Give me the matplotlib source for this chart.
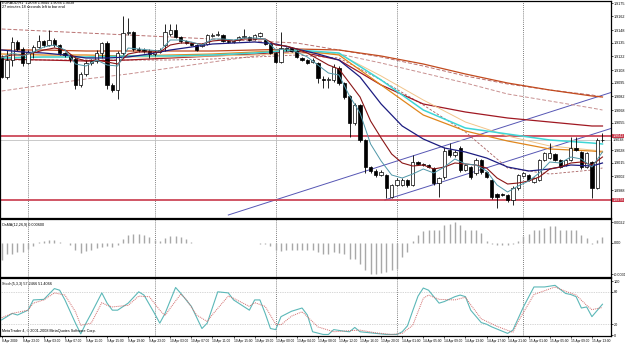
import matplotlib
matplotlib.use("Agg")
import matplotlib.pyplot as plt
import numpy as np

W, H = 625, 343
plt.rcParams["font.family"] = ["Liberation Sans", "DejaVu Sans"]

# ---- EURAUD H1 candles (one per bar, left to right)
open_ = [1.9120, 1.9101, 1.9118, 1.9136, 1.9129, 1.9115, 1.9126, 1.9131, 1.9137, 1.9133,
         1.9138, 1.9133, 1.9125, 1.9123, 1.9119, 1.9093, 1.9104, 1.9115, 1.9117, 1.9125,
         1.9135, 1.9093, 1.9088, 1.9125, 1.9145, 1.9146, 1.9129, 1.9128, 1.9127, 1.9124,
         1.9126, 1.9133, 1.9144, 1.9148, 1.9141, 1.9137, 1.9135, 1.9133, 1.9132, 1.9134,
         1.9142, 1.9143, 1.9143, 1.9137, 1.9136, 1.9138, 1.9141, 1.9141, 1.9139, 1.9142,
         1.9138, 1.9134, 1.9125, 1.9116, 1.9130, 1.9130, 1.9127, 1.9120, 1.9118, 1.9116,
         1.9115, 1.9099, 1.9098, 1.9098, 1.9110, 1.9095, 1.9082, 1.9055, 1.9073, 1.9038,
         1.9011, 1.9007, 1.9003, 1.9003, 1.8981, 1.8993, 1.8993, 1.8998, 1.8993, 1.9016,
         1.9014, 1.9013, 1.9010, 1.8995, 1.9001, 1.9028, 1.9023, 1.9030, 1.9008, 1.9011,
         1.9005, 1.9018, 1.9006, 1.8998, 1.8984, 1.8984, 1.8983, 1.8978, 1.8990, 1.9002,
         1.9003, 1.8996, 1.8998, 1.9018, 1.9020, 1.9024, 1.9018, 1.9013, 1.9018, 1.9030,
         1.9026, 1.9011, 1.9016, 1.8990, 1.9038]
high = [1.9123, 1.9128, 1.9141, 1.9138, 1.9131, 1.9128, 1.9133, 1.9143, 1.9138, 1.9148,
        1.9140, 1.9134, 1.9126, 1.9124, 1.9121, 1.9106, 1.9118, 1.9119, 1.9128, 1.9136,
        1.9137, 1.9095, 1.9127, 1.9162, 1.9160, 1.9147, 1.9131, 1.9130, 1.9129, 1.9128,
        1.9130, 1.9154, 1.9154, 1.9154, 1.9142, 1.9138, 1.9136, 1.9134, 1.9135, 1.9144,
        1.9145, 1.9147, 1.9144, 1.9138, 1.9138, 1.9142, 1.9149, 1.9142, 1.9144, 1.9146,
        1.9139, 1.9135, 1.9126, 1.9146, 1.9131, 1.9131, 1.9128, 1.9121, 1.9119, 1.9120,
        1.9116, 1.9102, 1.9101, 1.9114, 1.9112, 1.9096, 1.9083, 1.9075, 1.9074, 1.9039,
        1.9012, 1.9009, 1.9008, 1.9004, 1.8994, 1.9000, 1.9000, 1.8999, 1.9023, 1.9017,
        1.9015, 1.9014, 1.9011, 1.9001, 1.9031, 1.9035, 1.9028, 1.9032, 1.9014, 1.9012,
        1.9020, 1.9019, 1.9007, 1.8999, 1.8985, 1.8985, 1.8984, 1.8992, 1.9004, 1.9006,
        1.9004, 1.9001, 1.9019, 1.9026, 1.9035, 1.9025, 1.9019, 1.9019, 1.9041, 1.9041,
        1.9027, 1.9026, 1.9017, 1.9040, 1.9045]
low = [1.9100, 1.9099, 1.9112, 1.9127, 1.9112, 1.9114, 1.9120, 1.9130, 1.9131, 1.9132,
       1.9131, 1.9123, 1.9121, 1.9116, 1.9089, 1.9091, 1.9102, 1.9113, 1.9115, 1.9120,
       1.9089, 1.9086, 1.9079, 1.9123, 1.9143, 1.9127, 1.9126, 1.9125, 1.9120, 1.9122,
       1.9125, 1.9127, 1.9142, 1.9140, 1.9135, 1.9134, 1.9132, 1.9127, 1.9131, 1.9133,
       1.9141, 1.9142, 1.9136, 1.9135, 1.9135, 1.9137, 1.9140, 1.9137, 1.9138, 1.9141,
       1.9133, 1.9124, 1.9115, 1.9115, 1.9127, 1.9126, 1.9120, 1.9117, 1.9114, 1.9115,
       1.9095, 1.9090, 1.9090, 1.9096, 1.9093, 1.9079, 1.9041, 1.9053, 1.9036, 1.9005,
       1.9005, 1.9001, 1.9002, 1.8980, 1.8980, 1.8992, 1.8992, 1.8991, 1.8992, 1.9013,
       1.9012, 1.9010, 1.8993, 1.8981, 1.8999, 1.9021, 1.9021, 1.9006, 1.9007, 1.8999,
       1.9003, 1.9004, 1.9000, 1.8979, 1.8970, 1.8982, 1.8976, 1.8973, 1.8988, 1.9001,
       1.8997, 1.8995, 1.8997, 1.9017, 1.9019, 1.9017, 1.9010, 1.9012, 1.9017, 1.9027,
       1.9009, 1.9010, 1.8980, 1.8989, 1.9036]
close = [1.9101, 1.9118, 1.9136, 1.9129, 1.9115, 1.9126, 1.9131, 1.9137, 1.9133, 1.9138,
         1.9133, 1.9125, 1.9123, 1.9119, 1.9093, 1.9104, 1.9115, 1.9117, 1.9125, 1.9135,
         1.9093, 1.9088, 1.9125, 1.9145, 1.9146, 1.9129, 1.9128, 1.9127, 1.9124, 1.9126,
         1.9128, 1.9146, 1.9148, 1.9141, 1.9137, 1.9135, 1.9133, 1.9128, 1.9134, 1.9143,
         1.9143, 1.9144, 1.9137, 1.9136, 1.9137, 1.9141, 1.9142, 1.9138, 1.9143, 1.9145,
         1.9134, 1.9125, 1.9116, 1.9130, 1.9129, 1.9127, 1.9121, 1.9118, 1.9115, 1.9118,
         1.9100, 1.9098, 1.9099, 1.9111, 1.9095, 1.9081, 1.9055, 1.9073, 1.9038, 1.9011,
         1.9007, 1.9003, 1.9006, 1.8990, 1.8993, 1.8998, 1.8998, 1.8993, 1.9016, 1.9014,
         1.9013, 1.9011, 1.8995, 1.9000, 1.9027, 1.9023, 1.9026, 1.9008, 1.9013, 1.9001,
         1.9018, 1.9006, 1.9001, 1.8981, 1.8981, 1.8983, 1.8978, 1.8990, 1.9003, 1.9005,
         1.8998, 1.9000, 1.9018, 1.9025, 1.9025, 1.9018, 1.9011, 1.9018, 1.9030, 1.9028,
         1.9011, 1.9025, 1.8990, 1.9038, 1.9038]

bars_fast = list(range(0, 115, 2))
ma_teal = [1.9120, 1.9125, 1.9122, 1.9126, 1.9131, 1.9133, 1.9128, 1.9114, 1.9112, 1.9118,
           1.9113, 1.9112, 1.9130, 1.9129, 1.9128, 1.9127, 1.9138, 1.9138, 1.9136, 1.9133,
           1.9139, 1.9139, 1.9138, 1.9140, 1.9140, 1.9139, 1.9128, 1.9129, 1.9126, 1.9121,
           1.9113, 1.9105, 1.9103, 1.9082, 1.9065, 1.9034, 1.9017, 1.9003, 1.9000, 1.9004,
           1.9009, 1.9005, 1.9011, 1.9019, 1.9014, 1.9013, 1.9007, 1.8993, 1.8986, 1.8992,
           1.8997, 1.9005, 1.9016, 1.9015, 1.9021, 1.9019, 1.9011, 1.9026]
ma_maroon = [1.9121, 1.9123, 1.9123, 1.9125, 1.9128, 1.9130, 1.9128, 1.9120, 1.9117, 1.9118,
             1.9116, 1.9114, 1.9124, 1.9126, 1.9126, 1.9126, 1.9133, 1.9135, 1.9135, 1.9134,
             1.9137, 1.9138, 1.9137, 1.9139, 1.9139, 1.9139, 1.9133, 1.9132, 1.9129, 1.9125,
             1.9119, 1.9113, 1.9109, 1.9095, 1.9081, 1.9057, 1.9040, 1.9024, 1.9015, 1.9012,
             1.9013, 1.9009, 1.9011, 1.9015, 1.9014, 1.9013, 1.9010, 1.9000, 1.8994, 1.8995,
             1.8997, 1.9001, 1.9009, 1.9011, 1.9015, 1.9016, 1.9013, 1.9021]
bars_mid = list(range(0, 113, 4)) + [114]
ma_navy = [1.9128, 1.9126, 1.9125, 1.9123, 1.9120, 1.9120, 1.9121, 1.9124, 1.9128, 1.9131,
           1.9134, 1.9135, 1.9136, 1.9134, 1.9129, 1.9124, 1.9118, 1.9101, 1.9074, 1.9052,
           1.9039, 1.9030, 1.9026, 1.9020, 1.9011, 1.9007, 1.9009, 1.9013, 1.9012, 1.9015]
bars_slow = list(range(0, 113, 8)) + [114]
ma_cyan = [1.9120, 1.9121, 1.9121, 1.9122, 1.9122, 1.9123, 1.9125, 1.9128, 1.9125, 1.9098,
           1.9068, 1.9050, 1.9044, 1.9038, 1.9035, 1.9034]
ma_orange = [1.9124, 1.9123, 1.9123, 1.9122, 1.9123, 1.9124, 1.9126, 1.9128, 1.9123, 1.9093,
             1.9063, 1.9047, 1.9037, 1.9029, 1.9027, 1.9026]
ma_peach = [1.9121, 1.9121, 1.9121, 1.9121, 1.9121, 1.9122, 1.9123, 1.9125, 1.9124, 1.9102,
            1.9078, 1.9056, 1.9042, 1.9032, 1.9028, 1.9027]
ma_red = [1.9119, 1.9118, 1.9117, 1.9118, 1.9120, 1.9122, 1.9124, 1.9127, 1.9118, 1.9093,
          1.9074, 1.9066, 1.9060, 1.9056, 1.9052, 1.9052]
ma_rust = [1.9128, 1.9128, 1.9127, 1.9127, 1.9127, 1.9127, 1.9128, 1.9129, 1.9128, 1.9122,
           1.9114, 1.9104, 1.9095, 1.9088, 1.9082, 1.9081]
dash_top = [1.9149, 1.9147, 1.9145, 1.9143, 1.9141, 1.9139, 1.9137, 1.9135, 1.9128, 1.9121,
            1.9112, 1.9102, 1.9094, 1.9088, 1.9083, 1.9081]
dash_low = [1.9087, 1.9093, 1.9099, 1.9104, 1.9110, 1.9116, 1.9122, 1.9126, 1.9124, 1.9115,
            1.9105, 1.9095, 1.9084, 1.9077, 1.9070, 1.9068]
dash_fast = [1.9118, 1.9118, 1.9118, 1.9118, 1.9118, 1.9119, 1.9121, 1.9123, 1.9120, 1.9098,
             1.9073, 1.9046, 1.9010, 1.9004, 1.9008, 1.9010]

# ---- drawn objects
hlines = [1.9042, 1.8978]
bid = 1.9038
chan_a = ([43.0, 116.5], [1.8963, 1.9087])
chan_b = ([72.7, 116.5], [1.8978, 1.9051])
day_breaks = [5, 29, 52, 75, 99]
price_ticks = [1.9175, 1.9162, 1.9148, 1.9135, 1.9122, 1.9108, 1.9095, 1.9082, 1.9068,
               1.9055, 1.9028, 1.9015, 1.9002, 1.8988]

# ---- OsMA(12,26,9) histogram, one value per bar (in 0.0001)
osma = [-17, -11, -11, -9, -9, -6, -3, 1, 2, 3, 3, 1, 0.5, -2, -7, -10, -8, -7, -5, -4,
        -3, -4, -2, 4, 8, 9, 9, 8, 6, 3, 2, 5, 7, 7, 6, 4, 1, 0.5, 0.5, 0.5,
        0.5, 0.5, 0.5, 0.5, 0.5, 0.5, 0.5, 0.5, 0.3, -0.5, -1, -3, -7, -8, -7, -7, -7, -7, -7, -7,
        -9, -11, -11, -9, -10, -11, -16, -16, -21, -27, -31, -31, -30, -29, -27, -26, -14, -9, 2, 8,
        12, 13, 13, 13, 18, 19, 21, 18, 13, 13, 13, 10, 2, -1, -2, -2, -2, -1, 2, 7,
        9, 13, 13, 15, 17, 17, 13, 13, 13, 13, 8, 5, -1, 3, 6]
osma = [v * 0.0001 for v in osma]

# ---- Stochastic(5,3,3)
stoch_bars = [0, 2, 3, 5, 6, 8, 10, 11, 12, 14, 15, 16, 17, 19, 20, 21, 22, 24, 26, 27,
              29, 30, 31, 33, 34, 36, 38, 39, 41, 43, 44, 47, 48, 49, 50, 51, 52, 53, 55, 57,
              58, 59, 61, 62, 63, 65, 66, 67, 68, 71, 73, 75, 76, 77, 78, 79, 80, 81, 83, 84,
              86, 87, 88, 89, 91, 92, 93, 96, 97, 99, 101, 103, 105, 107, 108, 109, 110, 111, 112, 114]
stoch_main = [28, 40, 37, 46, 65, 66, 86, 83, 65, 22, 2, 22, 40, 78, 59, 46, 46, 59, 80, 74,
              40, 22, 40, 88, 77, 53, 12, 22, 80, 78, 65, 46, 65, 65, 40, 12, 10, 34, 44, 50,
              37, 6, 1, 1, 10, 7, 6, 14, 6, 3, 1, 1, 6, 17, 45, 72, 87, 83, 59, 62,
              71, 74, 71, 46, 23, 20, 15, 3, 9, 52, 89, 89, 92, 77, 75, 71, 50, 52, 34, 57]
sig_bars = [0, 2, 5, 6, 8, 10, 12, 14, 15, 17, 19, 20, 21, 24, 26, 28, 30, 31, 32, 34,
            35, 37, 39, 40, 43, 44, 47, 48, 50, 52, 53, 55, 57, 58, 60, 63, 66, 68, 71, 74,
            76, 78, 80, 81, 83, 86, 88, 89, 91, 94, 97, 98, 101, 105, 107, 109, 111, 112, 114]
stoch_sig = [32, 40, 46, 59, 65, 78, 74, 43, 18, 22, 60, 55, 52, 55, 72, 71, 46, 36, 50, 76,
             66, 37, 25, 38, 72, 68, 53, 60, 53, 20, 19, 35, 43, 34, 15, 6, 8, 9, 4, 1,
             3, 18, 68, 74, 66, 65, 70, 56, 30, 16, 5, 25, 75, 89, 81, 74, 55, 47, 51]

time_bars = list(range(0, 113, 4))
time_labels = ["8 Apr 2009", "8 Apr 23:00", "9 Apr 03:00", "9 Apr 07:00", "9 Apr 11:00",
               "9 Apr 15:00", "9 Apr 19:00", "9 Apr 23:00", "10 Apr 03:00", "10 Apr 07:00",
               "10 Apr 11:00", "10 Apr 15:00", "10 Apr 19:00", "13 Apr 00:00", "13 Apr 04:00",
               "13 Apr 08:00", "13 Apr 12:00", "13 Apr 16:00", "13 Apr 20:00", "14 Apr 01:00",
               "14 Apr 05:00", "14 Apr 09:00", "14 Apr 13:00", "14 Apr 17:00", "14 Apr 21:00",
               "15 Apr 01:00", "15 Apr 05:00", "15 Apr 09:00", "15 Apr 13:00"]


def box(y0, y1):
    # pixel rows -> figure rect, plot area spans x 0..611
    return [0.0, 1 - y1 / H, 611 / W, (y1 - y0) / H]


FS = 2.7
fig = plt.figure(figsize=(W / 100, H / 100), dpi=100)
fig.patch.set_facecolor("white")
ax = fig.add_axes(box(1, 218))
ax_o = fig.add_axes(box(219, 277), sharex=ax)
ax_s = fig.add_axes(box(278, 336), sharex=ax)
XL = (-0.32, 115.62)

for a in (ax, ax_o, ax_s):
    a.set_facecolor("white")
    for s in a.spines.values():
        s.set_color("black")
        s.set_linewidth(0.9)
    a.yaxis.tick_right()
    a.tick_params(axis="y", length=1.2, width=0.5, labelsize=FS, pad=0.6, colors="black")
    a.tick_params(axis="x", length=0)
    for b in day_breaks:
        a.axvline(b, color="#555555", lw=0.6, ls=(0, (1, 1.5)), zorder=1)

# main window
x = np.arange(len(close))
o, c = np.array(open_), np.array(close)
ax.vlines(x, low, high, color="black", lw=0.6, zorder=4)
up = c >= o
ax.bar(x, np.maximum(np.abs(c - o), 0.00005), bottom=np.minimum(o, c), width=0.62,
       color=np.where(up, "white", "black"), edgecolor="black", linewidth=0.5, zorder=5)

ax.plot(bars_slow, dash_top, color="#b87070", lw=0.7, ls=(0, (4, 2)), zorder=3)
ax.plot(bars_slow, dash_low, color="#c89090", lw=0.7, ls=(0, (4, 2)), zorder=3)
ax.plot(bars_slow, dash_fast, color="#a86060", lw=0.6, ls=(0, (3, 2)), zorder=3)
ax.plot(bars_slow, ma_rust, color="#c24a1e", lw=0.9, zorder=3)
ax.plot(bars_slow, ma_red, color="#a01822", lw=0.9, zorder=3)
ax.plot(bars_slow, ma_peach, color="#f1c48a", lw=0.7, zorder=3)
ax.plot(bars_slow, ma_orange, color="#e0861c", lw=0.9, zorder=3)
ax.plot(bars_slow, ma_cyan, color="#3fd6d6", lw=1.1, zorder=3)
ax.plot(bars_mid, ma_navy, color="#1c1c80", lw=0.9, zorder=6)
ax.plot(bars_fast, ma_maroon, color="#8a1616", lw=0.8, zorder=6)
ax.plot(bars_fast, ma_teal, color="#4f97a8", lw=0.7, zorder=6)

ax.plot(*chan_a, color="#5656b4", lw=0.7, zorder=2)
ax.plot(*chan_b, color="#5656b4", lw=0.7, zorder=2)
for p in hlines:
    ax.axhline(p, color="#c8384a", lw=1.2, zorder=2)
ax.axhline(bid, color="#c0c0c0", lw=0.6, zorder=2)

ax.set_ylim(1.8960, 1.9177)
ax.set_yticks(price_ticks)
ax.set_yticklabels([f"{p:.4f}" for p in price_ticks])
ax.set_xlim(*XL)
plt.setp(ax.get_xticklabels(), visible=False)

# price labels on the scale
for p, fc, tc in [(hlines[0], "#c8384a", "white"), (bid, "white", "black"), (hlines[1], "#c8384a", "white")]:
    ax.annotate(f"{p:.4f}", xy=(1.0, p), xycoords=("axes fraction", "data"), xytext=(1.0, 0),
                textcoords="offset points", va="center", ha="left", fontsize=FS, color=tc,
                bbox=dict(boxstyle="square,pad=0.1", fc=fc, ec="none"), zorder=10,
                annotation_clip=False)

# OsMA window
ax_o.vlines(x, 0, osma, color="#a8a8a8", lw=1.0)
ax_o.set_ylim(-0.0034, 0.0024)
ax_o.set_yticks([0.0021, 0.0, -0.0031])
ax_o.set_yticklabels(["0.0022", "0.00", "-0.0031"])
plt.setp(ax_o.get_xticklabels(), visible=False)
ax_o.text(0.004, 0.93, "OsMA(12,26,9) 0.000600", transform=ax_o.transAxes, fontsize=FS, va="top")

# Stochastic window
ax_s.axhline(80, color="#b0b0b0", lw=0.5, ls=(0, (1, 1.5)))
ax_s.axhline(20, color="#b0b0b0", lw=0.5, ls=(0, (1, 1.5)))
ax_s.plot(stoch_bars, stoch_main, color="#5cb8b8", lw=0.8)
ax_s.plot(sig_bars, stoch_sig, color="#d06a6a", lw=0.7, ls=(0, (1, 1)))
ax_s.set_ylim(-1.85, 105.6)
ax_s.set_yticks([100, 80, 20, 0])
ax_s.text(0.004, 0.93, "Stoch(5,3,3) 57.2466 51.4066", transform=ax_s.transAxes, fontsize=FS, va="top")
ax_s.text(0.004, 0.06, "MetaTrader 4, \u00a9 2001-2008 MetaQuotes Software Corp.",
          transform=ax_s.transAxes, fontsize=FS, va="bottom")
ax_s.set_xticks(time_bars)
ax_s.set_xticklabels(time_labels)
ax_s.tick_params(axis="x", length=1.5, width=0.5, labelsize=2.35, pad=0.4, direction="out")
for lab in ax_s.get_xticklabels():
    lab.set_ha("left")
ax_s.set_xlim(*XL)

fig.text(2 / W, 1 - 1 / H, "EURAUD,H1  1.9038 1.9045 1.9036 1.9038", fontsize=FS, va="top")
fig.text(2 / W, 1 - 5.5 / H, "27 minutes 18 seconds left to bar end", fontsize=FS, va="top")

fig.savefig("out.png", dpi=100, facecolor="white")
